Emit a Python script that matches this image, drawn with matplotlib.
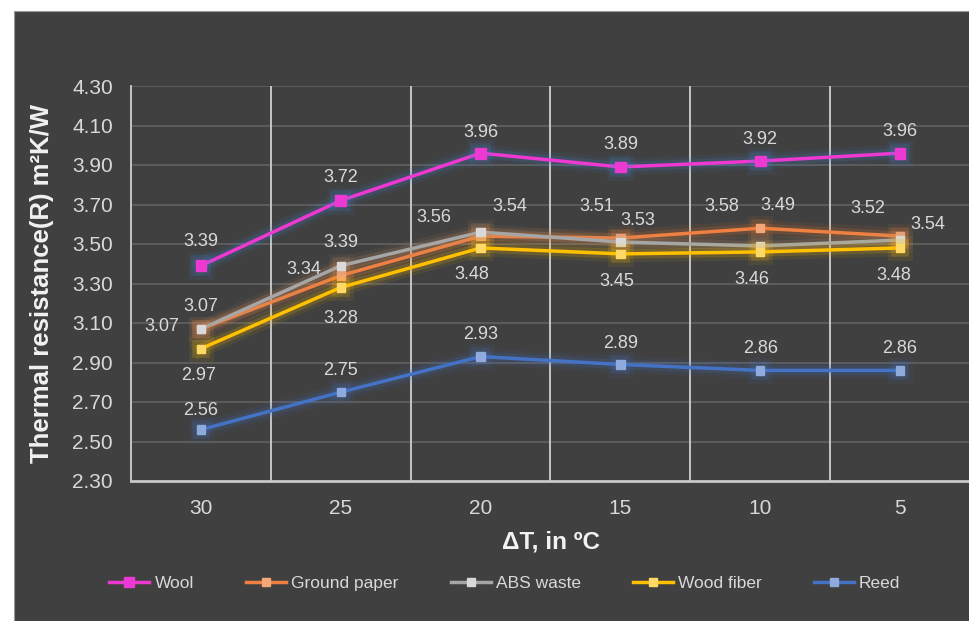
import matplotlib
matplotlib.use('Agg')
import matplotlib.pyplot as plt
import matplotlib.patheffects as pe
from matplotlib.patches import Rectangle
import numpy as np

plt.rcParams['font.family'] = ['Liberation Sans', 'DejaVu Sans']

# thermal resistance per temperature difference
delta_t = ['30', '25', '20', '15', '10', '5']
wool = [3.39, 3.72, 3.96, 3.89, 3.92, 3.96]
ground_paper = [3.07, 3.34, 3.54, 3.53, 3.58, 3.54]
abs_waste = [3.07, 3.39, 3.56, 3.51, 3.49, 3.52]
wood_fiber = [2.97, 3.28, 3.48, 3.45, 3.46, 3.48]
reed = [2.56, 2.75, 2.93, 2.89, 2.86, 2.86]

# label offsets in pixels (dx, dy) for each point
off_wool = [(0, 24), (0, 23), (0, 21), (0, 22), (0, 22), (0, 22)]
off_gp = [(-39, 2), (-37, 6), (29, 30), (17, 18), (-38, 22), (28, 12)]
off_abs = [(0, 22), (0, 23), (-47, 15), (-24, 36), (18, 40), (-32, 32)]
off_wood = [(-2, -27), (0, -31), (-9, -27), (-4, -28), (-8, -28), (-6, -28)]
off_reed = [(0, 19), (0, 22), (0, 22), (0, 21), (0, 22), (0, 22)]

series = [
    # name, values, line, marker, glow, marker size, offsets
    ('Wool', wool, '#ee38d2', '#ee38d2', '#3f86d6', 7.8, off_wool),
    ('Ground paper', ground_paper, '#ef8042', '#f5a77a', '#ee7d31', 6.0, off_gp),
    ('ABS waste', abs_waste, '#a6a6a6', '#d9d9d9', '#c8946a', 6.0, off_abs),
    ('Wood fiber', wood_fiber, '#ffc000', '#ffd966', '#ffc000', 6.0, off_wood),
    ('Reed', reed, '#4472c4', '#8faadc', '#4472c4', 6.0, off_reed),
]

bg = '#404040'
txt = '#d9d9d9'

fig = plt.figure(figsize=(9.69, 6.21), dpi=100, facecolor='white')
fig.patches.append(Rectangle((14/969, 0), 1, 1 - 11/621, transform=fig.transFigure,
                             facecolor=bg, edgecolor='#9a9a9a', lw=0.8, zorder=-10))

ax = fig.add_axes([131/969, 1 - 481/621, 839/969, 395/621])
ax.set_facecolor(bg)

x = np.arange(len(delta_t))
for i, (name, vals, lc, mc, gc, ms, offs) in enumerate(series):
    glow = [pe.Stroke(linewidth=12, foreground=gc, alpha=0.08),
            pe.Stroke(linewidth=7, foreground=gc, alpha=0.16),
            pe.Normal()]
    ax.plot(x, vals, color=lc, lw=2.5, marker='s', ms=ms, mfc=mc, mec=mc,
            label=name, zorder=5 + i, path_effects=glow)
    for xi, v, (dx, dy) in zip(x, vals, offs):
        ax.annotate('{:.2f}'.format(v), (xi, v), xytext=(dx, dy),
                    textcoords='offset pixels', ha='center', va='center',
                    color=txt, fontsize=13, zorder=20)

ax.set_xlim(-0.5, len(delta_t) - 0.5)
ax.set_ylim(2.30, 4.30)
yt = np.round(np.arange(2.30, 4.31, 0.20), 2)
ax.set_yticks(yt)
ax.set_yticklabels(['{:.2f}'.format(v) for v in yt])
ax.set_xticks(x)
ax.set_xticklabels(delta_t)
ax.tick_params(length=0, colors=txt, labelsize=15, pad=13)

# horizontal grid is faint, category separators are bright
for v in yt[1:]:
    ax.axhline(v, color='#5e5e5e', lw=1.3, zorder=1)
for b in np.arange(0.5, len(delta_t) - 0.5):
    ax.axvline(b, color='#cfcfcf', lw=1.3, zorder=1)

for s in ['top', 'right']:
    ax.spines[s].set_visible(False)
ax.spines['left'].set_color('#cfcfcf')
ax.spines['left'].set_linewidth(1.3)
ax.spines['bottom'].set_color('#c8c8c8')
ax.spines['bottom'].set_linewidth(2)

ax.set_ylabel('Thermal resistance(R) m²K/W', color='#f2f2f2', fontsize=18.5,
              fontweight='bold', va='center')
ax.yaxis.set_label_coords(-0.106, 0.5)
ax.set_xlabel('ΔT, in ºC', color='#f2f2f2', fontsize=17.5, fontweight='bold',
              va='center')
ax.xaxis.set_label_coords(0.5, -0.154)

leg = fig.legend(loc='center', bbox_to_anchor=(0.521, 1 - 583/621), ncol=5,
                 frameon=False, fontsize=12.5, handlelength=2.3,
                 handletextpad=0.3, columnspacing=3.0, labelcolor=txt)
for h in leg.legend_handles:
    h.set_path_effects([])

fig.savefig('out.png', dpi=100, facecolor='white')
